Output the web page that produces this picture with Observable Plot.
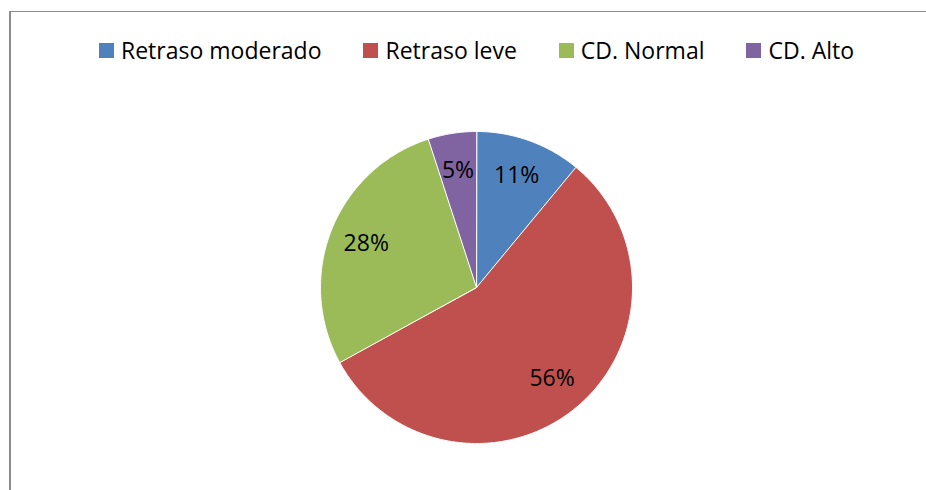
<!DOCTYPE html>
<html>
<head>
<meta charset="utf-8">
<script src="https://cdn.jsdelivr.net/npm/d3@7"></script>
<script src="https://cdn.jsdelivr.net/npm/@observablehq/plot@0.6"></script>
<style>
  html, body { margin: 0; padding: 0; background: #fff; }
  #wrap { position: relative; width: 926px; height: 490px; overflow: hidden; font-family: "Open Sans", sans-serif; }
  #frame { position: absolute; left: 9px; top: 11px; width: 940px; height: 500px; border-left: 2px solid #8c8c8c; border-top: 1px solid #8c8c8c; box-sizing: border-box; }
  #legend { position: absolute; left: 99px; top: 38px; display: flex; gap: 42px; font-size: 23px; line-height: 24px; color: #000; white-space: nowrap; }
  #legend .item { display: flex; align-items: center; }
  #legend .sw { width: 15px; height: 15px; margin-right: 7px; }
  #chart { position: absolute; left: 0; top: 70px; }
</style>
</head>
<body>
<div id="wrap">
  <div id="frame"></div>
  <div id="legend"></div>
  <div id="chart"></div>
</div>
<script>
const categories = ["Retraso moderado", "Retraso leve", "CD. Normal", "CD. Alto"];
const percents = [11, 56, 28, 5];
const colors = ["#4F81BD", "#C0504D", "#9BBB59", "#8064A2"];

// Legend
const legend = document.getElementById("legend");
categories.forEach((c, i) => {
  const it = document.createElement("div");
  it.className = "item";
  const sw = document.createElement("span");
  sw.className = "sw";
  sw.style.background = colors[i];
  const tx = document.createElement("span");
  tx.textContent = c;
  it.appendChild(sw); it.appendChild(tx);
  legend.appendChild(it);
});

// Build slice outlines from the data (angles clockwise from 12 o'clock)
const total = d3.sum(percents);
const slices = [];
let start = 0;
percents.forEach((p, i) => {
  const a0 = start / total * 2 * Math.PI;
  const a1 = (start + p) / total * 2 * Math.PI;
  slices.push({name: categories[i], pct: p, a0, a1});
  start += p;
});
const outline = [];
slices.forEach(s => {
  outline.push({name: s.name, x: 0, y: 0});
  const n = Math.max(2, Math.ceil((s.a1 - s.a0) / (Math.PI / 360)));
  for (let k = 0; k <= n; k++) {
    const a = s.a0 + (s.a1 - s.a0) * k / n;
    outline.push({name: s.name, x: Math.sin(a), y: Math.cos(a)});
  }
});
const labelR = 0.76;
const labels = slices.map(s => {
  const m = (s.a0 + s.a1) / 2;
  return {name: s.name, text: s.pct + "%", x: labelR * Math.sin(m), y: labelR * Math.cos(m)};
});

const cx = 476, cy = 217, r = 156, W = 926, H = 420;
const plot = Plot.plot({
  width: W,
  height: H,
  margin: 0,
  style: {background: "transparent", fontFamily: "Open Sans, sans-serif", overflow: "visible"},
  x: {domain: [-1, 1], range: [cx - r, cx + r], axis: null},
  y: {domain: [-1, 1], range: [cy + r, cy - r], axis: null},
  color: {domain: categories, range: colors},
  marks: [
    Plot.line(outline, {x: "x", y: "y", z: "name", fill: "name", stroke: "#fff", strokeWidth: 1, curve: "linear-closed"}),
    Plot.text(labels, {x: "x", y: "y", text: "text", fontSize: 23, fill: "#000"})
  ]
});
document.getElementById("chart").appendChild(plot);
</script>
</body>
</html>
